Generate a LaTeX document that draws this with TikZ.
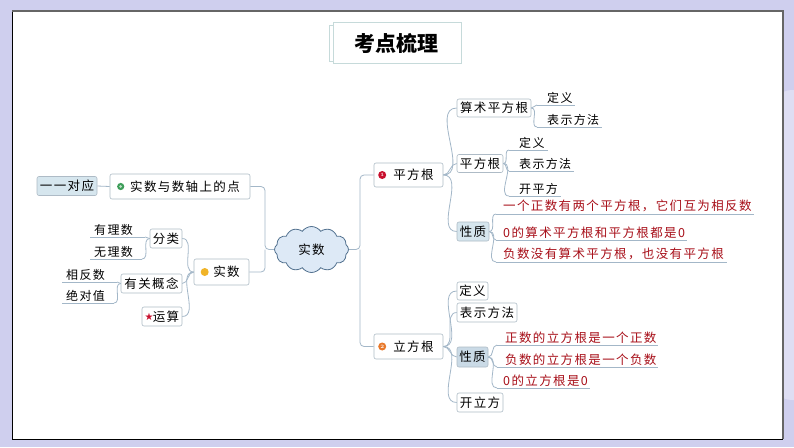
\documentclass[tikz,border=0pt]{standalone}
\usepackage{fontspec}
\newfontfamily\cjk[LetterSpace=11]{Noto Sans CJK SC}
\newfontfamily\cjkt{Noto Sans CJK SC}
\usetikzlibrary{shapes.symbols}
\definecolor{bgc}{HTML}{CFCFEE}
\definecolor{bgl}{HTML}{DEDEF3}
\definecolor{bordc}{HTML}{AEBBC6}
\definecolor{connc}{HTML}{A3B7C8}
\definecolor{redt}{HTML}{A8101A}
\definecolor{hfill}{HTML}{D6E6EE}
\definecolor{pfill}{HTML}{CADAE6}
\definecolor{cloudf}{HTML}{DDE9F6}
\definecolor{cloudd}{HTML}{52718F}
\definecolor{gbul}{HTML}{3E9E5A}
\definecolor{ybul}{HTML}{F0B428}
\definecolor{rbul}{HTML}{C8102E}
\definecolor{obul}{HTML}{E8782A}
\definecolor{titled}{HTML}{C6DADA}
\begin{document}
\begin{tikzpicture}[x=1pt,y=-1pt,
  boxfont/.style={font=\cjk\fontsize{12.5}{14}\selectfont},
  mbox/.style={boxfont, draw=bordc, line width=0.6pt, fill=white, rounded corners=2pt, inner sep=0pt},
  hbox/.style={mbox, fill=hfill},
  pbox/.style={mbox, fill=pfill},
  leaf/.style={font=\cjk\fontsize{12}{14}\selectfont, inner xsep=0pt, inner ysep=1.5pt, anchor=south west},
  rleaf/.style={font=\cjk\fontsize{12.5}{14}\selectfont, text=redt, inner xsep=0pt, inner ysep=1.5pt, anchor=south west},
  conn/.style={draw=connc, line width=0.8pt},
  uline/.style={draw=connc, line width=0.8pt},
  curve/.style={conn, out=0, in=180},
  lcurve/.style={conn, out=180, in=0}
]
\useasboundingbox (0,0) rectangle (794,447);
\fill[bgc] (0,0) rectangle (794,447);
\fill[bgl, rounded corners=20pt] (772,90) rectangle (820,400);
% panel
\fill[white] (12,11) rectangle (783,439);
\draw[black, line width=0.9pt] (12,11) -- (12,439) -- (783,439);
\draw[gray!80!black, line width=1.2pt] (12,11) -- (783,11) -- (783,439);
% title
\draw[titled, fill=white, line width=0.6pt] (329,25) rectangle (457,61);
\draw[titled, fill=white, line width=0.6pt] (333,22) rectangle (461,63);
\node[font=\cjkt\bfseries\fontsize{21}{24}\selectfont] (title) at (396,43) {考点梳理};

% center cloud
\node[cloud, cloud puffs=12, cloud puff arc=110, aspect=1.7, draw=cloudd, fill=cloudf, line width=0.8pt,
      minimum width=74pt, minimum height=46pt, inner sep=0pt, boxfont] (c) at (311.5,249.5) {实数};

% left side
\node[hbox, minimum width=60pt, minimum height=19pt] (yy) at (67,186) {一一对应};
\node[mbox, minimum width=140pt, minimum height=25pt] (p1) at (180,186.5) {\hspace{10pt}实数与数轴上的点};
\node[mbox, minimum width=55pt, minimum height=26pt] (r2) at (221.5,272) {\hspace{10pt}实数};
\node[mbox, minimum width=32pt, minimum height=19pt] (fl) at (166,238.5) {分类};
\node[mbox, minimum width=61pt, minimum height=19pt] (gg) at (151.5,283.5) {有关概念};
\node[mbox, minimum width=40pt, minimum height=19pt] (ys) at (162,316.5) {\hspace{8pt}运算};
\node[leaf] (l1) at (94,237) {有理数};
\node[leaf] (l2) at (94,259) {无理数};
\node[leaf] (l3) at (66,282) {相反数};
\node[leaf] (l4) at (66,303) {绝对值};

% bullets left
\fill[gbul] ([xshift=11pt]p1.west) circle (3.6pt);
\fill[white!65!gbul] ([xshift=11pt]p1.west) circle (1.5pt);
\fill[ybul] ([xshift=11pt]r2.west) circle (4pt);
\node[text=rbul, font=\fontspec{DejaVu Sans}\fontsize{10}{10}\selectfont, inner sep=0pt] (star) at ([xshift=7.5pt]ys.west) {★};

% right level 1
\node[mbox, minimum width=69pt, minimum height=24pt] (sq) at (408.5,175) {\hspace{10pt}平方根};
\node[mbox, minimum width=69pt, minimum height=25pt] (cb) at (408.5,346.5) {\hspace{10pt}立方根};
\fill[rbul] ([xshift=8.5pt]sq.west) circle (4pt);
\node[text=white, font=\bfseries\fontsize{5}{5}\selectfont, inner sep=0pt] (n1) at ([xshift=8.5pt]sq.west) {1};
\fill[obul] ([xshift=8.5pt]cb.west) circle (4pt);
\node[text=white, font=\bfseries\fontsize{5}{5}\selectfont, inner sep=0pt] (n2) at ([xshift=8.5pt]cb.west) {2};

% right level 2 (square root)
\node[mbox, minimum width=74pt, minimum height=18pt] (ar) at (494,108) {算术平方根};
\node[mbox, minimum width=46pt, minimum height=18pt] (sq2) at (480,163.5) {平方根};
\node[hbox, minimum width=32pt, minimum height=19pt] (pr1) at (473,231.5) {性质};
\node[leaf] (a1) at (547,105) {定义};
\node[leaf] (a2) at (547,127) {表示方法};
\node[leaf] (b1) at (519,150) {定义};
\node[leaf] (b2) at (519,171) {表示方法};
\node[leaf] (b3) at (519,196) {开平方};
\node[rleaf] (c1) at (503,214) {一个正数有两个平方根，它们互为相反数};
\node[rleaf] (c2) at (503,240) {0的算术平方根和平方根都是0};
\node[rleaf] (c3) at (503,262) {负数没有算术平方根，也没有平方根};

% right level 2 (cube root)
\node[mbox, minimum width=31pt, minimum height=18pt] (cd) at (472.5,291) {定义};
\node[mbox, minimum width=60pt, minimum height=19pt] (cr) at (487,312.5) {表示方法};
\node[pbox, minimum width=31pt, minimum height=20pt] (pr2) at (472.5,357) {性质};
\node[mbox, minimum width=46pt, minimum height=19pt] (ck) at (480,402.5) {开立方};
\node[rleaf] (e1) at (505,345) {正数的立方根是一个正数};
\node[rleaf] (e2) at (505,367) {负数的立方根是一个负数};
\node[rleaf] (e3) at (503,388) {0的立方根是0};

% underline coordinates
\coordinate (a1u) at ([xshift=-10pt]a1.south west);
\coordinate (a2u) at ([xshift=-10pt]a2.south west);
\coordinate (b1u) at ([xshift=-10pt]b1.south west);
\coordinate (b2u) at ([xshift=-10pt]b2.south west);
\coordinate (b3u) at ([xshift=-10pt]b3.south west);
\coordinate (c1u) at ([xshift=-7pt]c1.south west);
\coordinate (c2u) at ([xshift=-7pt]c2.south west);
\coordinate (c3u) at ([xshift=-7pt]c3.south west);
\coordinate (e1u) at ([xshift=-8pt]e1.south west);
\coordinate (e2u) at ([xshift=-8pt]e2.south west);
\coordinate (e3u) at ([xshift=-6pt]e3.south west);
\coordinate (l1u) at ([xshift=12pt]l1.south east);
\coordinate (l2u) at ([xshift=9pt]l2.south east);
\coordinate (l3u) at ([xshift=12pt]l3.south east);
\coordinate (l4u) at ([xshift=9pt]l4.south east);

\foreach \n/\e in {a1/2,a2/3,b1/3,b2/3,b3/3,c1/2,c2/2,c3/3,e1/1,e2/1,e3/2}{
  \draw[uline] (\n u) -- ([xshift=\e pt]\n.south east);
}
\foreach \n in {l1,l2,l3,l4}{
  \draw[uline] ([xshift=-4pt]\n.south west) -- (\n u);
}

% connectors
\coordinate (lj) at (265,249.5);
\coordinate (rj) at (360,249.5);
\draw[conn, rounded corners=4pt] (c.west) -- (lj) |- (p1.east);
\draw[conn, rounded corners=4pt] (lj) |- (r2.east);
\draw[conn, rounded corners=4pt] (c.east) -- (rj) |- (sq.west);
\draw[conn, rounded corners=4pt] (rj) |- (cb.west);
\draw[conn] (yy.east) -- (p1.west);
\draw (r2.west) edge[lcurve] (fl.east) edge[lcurve] (gg.east) edge[lcurve] (ys.east);
\draw (fl.west) edge[lcurve] (l1u) edge[lcurve] (l2u);
\draw (gg.west) edge[lcurve] (l3u) edge[lcurve] (l4u);
\draw (sq.east) edge[curve] (ar.west) edge[curve] (sq2.west) edge[curve] (pr1.west);
\draw (ar.east) edge[curve] (a1u) edge[curve] (a2u);
\draw (sq2.east) edge[curve] (b1u) edge[curve] (b2u) edge[curve] (b3u);
\draw (pr1.east) edge[curve] (c1u) edge[curve] (c2u) edge[curve] (c3u);
\draw (cb.east) edge[curve] (cd.west) edge[curve] (cr.west) edge[curve] (pr2.west) edge[curve] (ck.west);
\draw (pr2.east) edge[curve] (e1u) edge[curve] (e2u) edge[curve] (e3u);
\end{tikzpicture}
\end{document}
